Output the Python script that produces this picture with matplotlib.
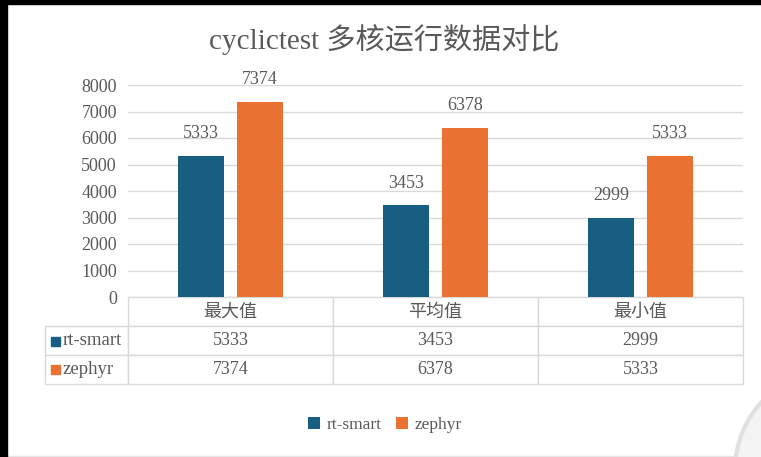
import matplotlib
matplotlib.use("Agg")
import matplotlib.pyplot as plt
from matplotlib.patches import Rectangle, Ellipse
import numpy as np

categories = ["最大值", "平均值", "最小值"]
series_names = ["rt-smart", "zephyr"]
rt_smart = [5333, 3453, 2999]
zephyr = [7374, 6378, 5333]
yticks = [0, 1000, 2000, 3000, 4000, 5000, 6000, 7000, 8000]
title = "cyclictest 多核运行数据对比"

colors = ["#175E82", "#E97132"]
txt = "#595959"
grid_c = "#D9D9D9"
SERIF = ["Liberation Serif", "Noto Sans CJK SC"]
CJK = ["Noto Sans CJK SC", "Liberation Serif"]

W, H = 761, 457
fig = plt.figure(figsize=(W / 100, H / 100), dpi=100)
fig.patch.set_facecolor("white")

# screenshot frame decorations
fig.add_artist(Rectangle((0, 0), 7 / W, 1, transform=fig.transFigure, color="black", zorder=10))
fig.add_artist(Rectangle((0, 1 - 4 / H), 1, 4 / H, transform=fig.transFigure, color="black", zorder=10))
fig.add_artist(Rectangle((7 / W, 0), 1, 1.2 / H, transform=fig.transFigure, color="#E6E6E6", zorder=9))
fig.add_artist(Ellipse((835 / W, 1 - 470 / H), 200 / W, 200 / H, transform=fig.transFigure,
                       facecolor="#F3F3F3", edgecolor="#E0E0E0", lw=3, zorder=9))

ax = fig.add_axes([128 / W, 1 - 297 / H, 615 / W, 212 / H])
x = np.arange(len(categories))
bw = 0.225
off = 0.144
b1 = ax.bar(x - off, rt_smart, bw, color=colors[0], label=series_names[0], zorder=3)
b2 = ax.bar(x + off, zephyr, bw, color=colors[1], label=series_names[1], zorder=3)

for bars, vals in ((b1, rt_smart), (b2, zephyr)):
    for rect, v in zip(bars, vals):
        ax.annotate(str(v), (rect.get_x() + rect.get_width() / 2, v), xytext=(0, 10),
                    textcoords="offset points", ha="center", va="bottom",
                    fontsize=13, color=txt, family=SERIF)

ax.set_xlim(-0.5, len(categories) - 0.5)
ax.set_ylim(0, 8000)
ax.set_yticks(yticks)
ax.set_yticklabels([str(v) for v in yticks], family=SERIF, fontsize=13, color=txt)
ax.tick_params(axis="y", length=0, pad=8)
ax.set_xticks([])
ax.grid(axis="y", color=grid_c, lw=1)
ax.set_axisbelow(True)
for s in ax.spines.values():
    s.set_visible(False)

# data table (first column holds the series names)
cell_text = [[series_names[0]] + [str(v) for v in rt_smart],
             [series_names[1]] + [str(v) for v in zephyr]]
lab_w = 0.135
tbl = ax.table(cellText=cell_text, colLabels=[""] + categories,
               colWidths=[lab_w] + [1 / 3] * 3, cellLoc="center",
               bbox=[-lab_w, -0.4104, 1 + lab_w, 0.4104])
tbl.auto_set_font_size(False)
for (r, c), cell in tbl.get_celld().items():
    cell.set_edgecolor(grid_c)
    cell.set_linewidth(1)
    t = cell.get_text()
    t.set_color(txt)
    if r == 0:
        t.set_fontfamily(CJK)
        t.set_fontsize(13)
        if c == 0:
            cell.visible_edges = ""
    else:
        t.set_fontfamily(SERIF)
        t.set_fontsize(13)
        if c == 0:
            t.set_horizontalalignment("left")
            t.set_fontsize(13.5)
            cell.PAD = 0.21

# legend squares in the row labels
for i, col in enumerate(colors):
    yc = 1 - (341 + 28.5 * i) / H
    fig.add_artist(Rectangle((51 / W, yc - 4.5 / H), 8.5 / W, 9 / H,
                             transform=fig.transFigure, color=col, zorder=5))

fig.suptitle(title, x=384 / W, y=1 - 40 / H, va="center", fontsize=21, color=txt, family=SERIF)

fig.legend(handles=[b1, b2], labels=series_names, loc="center",
           bbox_to_anchor=(385 / W, 1 - 425 / H), ncol=2, frameon=False,
           handlelength=0.7, handleheight=0.7, handletextpad=0.4, columnspacing=0.8,
           prop={"family": SERIF, "size": 12.5}, labelcolor=txt)

fig.savefig("out.png", dpi=100, facecolor="white")
